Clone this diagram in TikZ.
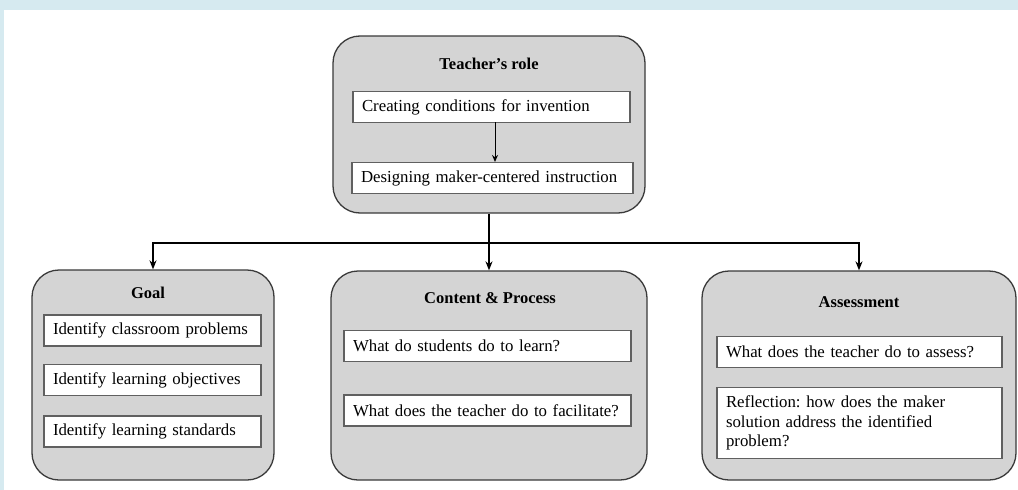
\documentclass[tikz,border=0pt]{standalone}
\usepackage{fontspec}
\setmainfont{Liberation Serif}
\frenchspacing
\usetikzlibrary{arrows.meta}
\definecolor{pagebg}{HTML}{D6EAF0}
\definecolor{boxgray}{HTML}{D4D4D4}
\definecolor{edgegray}{HTML}{3A3A3A}
\begin{document}
\begin{tikzpicture}[x=1pt,y=-1pt,>={Stealth[length=9pt,width=7pt]},
        panel/.style={draw=edgegray,line width=1.3pt,fill=boxgray,rounded corners=27pt},
        head/.style={font=\fontsize{16.5}{19.5}\selectfont\bfseries},
        item/.style={draw=gray!75!black,line width=1.1pt,fill=white,text width=#1,align=left,
            inner xsep=9pt,inner ysep=0pt,minimum height=31pt,font=\fontsize{16.8}{19.5}\selectfont},
        link/.style={line width=2pt}]
                        \useasboundingbox (0,0) rectangle (1018,490);
                        \fill[pagebg] (0,0) rectangle (1018,490);
                        \fill[white] (4,10) rectangle (1018,490);
                        % teacher's role
                        \node[panel,minimum width=312pt,minimum height=177pt] (role) at (489,124.5) {};
                        \node[head] (roletitle) at (489,64) {Teacher’s role};
                        \node[item=259pt] (create) at (491.5,107) {Creating conditions for invention};
                        \node[item=263pt] (design) at (492.5,178) {Designing maker-centered instruction};
                        \coordinate (drop) at (495,122);
                        \draw[->,line width=1pt,>={Stealth[length=7pt,width=6pt]}] (drop) -- (drop |- design.north);
                        % goal
                        \node[panel,minimum width=242pt,minimum height=210pt] (goal) at (153,375) {};
                        \node[head] (goaltitle) at (148,293) {Goal};
                        \node[item=199pt] (problems) at (152.5,330.5) {Identify classroom problems};
                        \node[item=199pt] (objectives) at (152.5,380) {Identify learning objectives};
                        \node[item=199pt] (standards) at (152.5,431.5) {Identify learning standards};
                        % content & process
                        \node[panel,minimum width=316pt,minimum height=209pt] (content) at (489,375.5) {};
                        \node[head] (contenttitle) at (490,298) {Content \& Process};
                        \node[item=269pt] (learn) at (487.5,346) {What do students do to learn?};
                        \node[item=269pt] (facilitate) at (487.5,410.5) {What does the teacher do to facilitate?};
                        % assessment
                        \node[panel,minimum width=314pt,minimum height=209pt] (assess) at (859,375.5) {};
                        \node[head] (assesstitle) at (859,302) {Assessment};
                        \node[item=267pt] (toassess) at (859.5,352) {What does the teacher do to assess?};
                        \node[item=267pt,inner ysep=8pt] (reflect) at (859.5,423) {Reflection: how does the maker\\ solution address the identified\\ problem?};
                        % links
                        \coordinate (split) at (489,243);
                        \draw[link] (role.south) -- (split);
                        \draw[link,->] (split) -| (goal.north);
                        \draw[link,->] (split) -- (content.north);
                        \draw[link,->] (split) -| (assess.north);
                    \end{tikzpicture}
\end{document}
